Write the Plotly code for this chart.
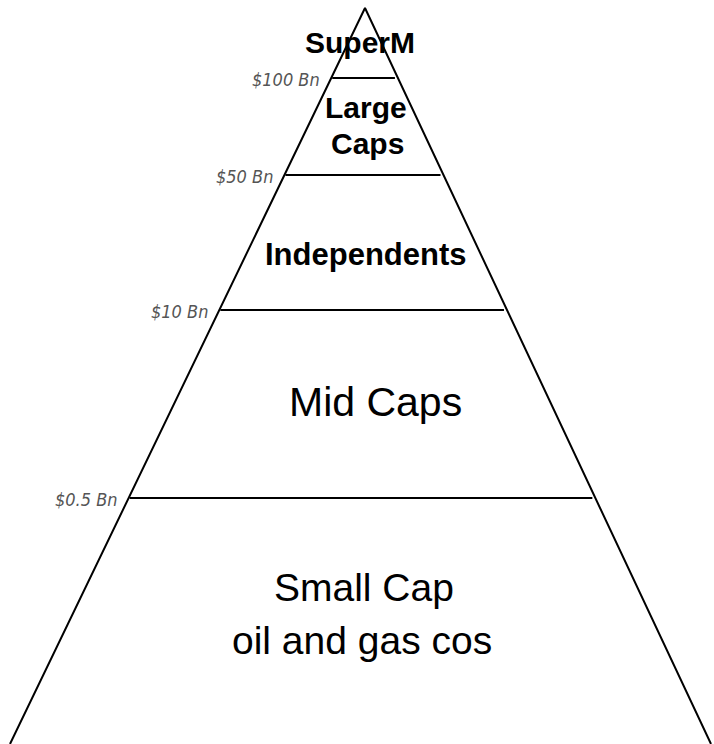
import plotly.graph_objects as go

# Data
tiers = ["SuperM", "Large\nCaps", "Independents", "Mid Caps", "Small Cap\noil and gas cos"]
tier_bold = [True, True, True, False, False]
thresholds = ["$100 Bn", "$50 Bn", "$10 Bn", "$0.5 Bn"]

# Geometry (pixel-space layout parameters)
W, H = 714, 744
apex = (365, 8)
base_left_x, base_right_x, base_y = 10, 711, 744
boundary_y = [78, 175, 310, 498]
# per-line text placement (x center, y center) for each tier
tier_line_pos = [
    [(360, 42)],
    [(366, 107), (367, 143)],
    [(366, 254)],
    [(375, 402)],
    [(364, 587), (362, 640)],
]
tier_font = [30, 30, 31, 41, 39]


def left_x(y):
    return apex[0] + (base_left_x - apex[0]) * (y - apex[1]) / (base_y - apex[1])


def right_x(y):
    return apex[0] + (base_right_x - apex[0]) * (y - apex[1]) / (base_y - apex[1])


fig = go.Figure()

# pyramid outline
fig.add_trace(go.Scatter(
    x=[base_left_x, apex[0], base_right_x], y=[base_y, apex[1], base_y],
    mode="lines", line=dict(color="black", width=2), hoverinfo="skip", showlegend=False))

# boundaries
for by in boundary_y:
    fig.add_trace(go.Scatter(
        x=[left_x(by) + 1, right_x(by) - 3], y=[by, by], mode="lines",
        line=dict(color="black", width=2), hoverinfo="skip", showlegend=False))

annotations = []
for name, bold, positions, fs in zip(tiers, tier_bold, tier_line_pos, tier_font):
    for line, (tx, ty) in zip(name.split("\n"), positions):
        annotations.append(dict(
            x=tx, y=ty, xref="x", yref="y", text=f"<b>{line}</b>" if bold else line,
            showarrow=False, xanchor="center", yanchor="middle",
            font=dict(family="Liberation Sans, Arial, sans-serif", size=fs, color="black")))

for lab, by in zip(thresholds, boundary_y):
    annotations.append(dict(
        x=left_x(by) - 9, y=by + 1, xref="x", yref="y", text=f"<i>{lab}</i>",
        showarrow=False, xanchor="right", yanchor="middle",
        font=dict(family="DejaVu Sans Condensed, sans-serif", size=18, color="#555555")))

fig.update_layout(
    width=W, height=H, margin=dict(l=0, r=0, t=0, b=0),
    paper_bgcolor="white", plot_bgcolor="white",
    xaxis=dict(range=[0, W], visible=False, fixedrange=True),
    yaxis=dict(range=[H, 0], visible=False, fixedrange=True),
    annotations=annotations, showlegend=False)

fig.write_html(
    "out.html",
    config={"displayModeBar": False},
    post_script="document.body.style.margin='0px';document.body.style.overflow='hidden';",
)
